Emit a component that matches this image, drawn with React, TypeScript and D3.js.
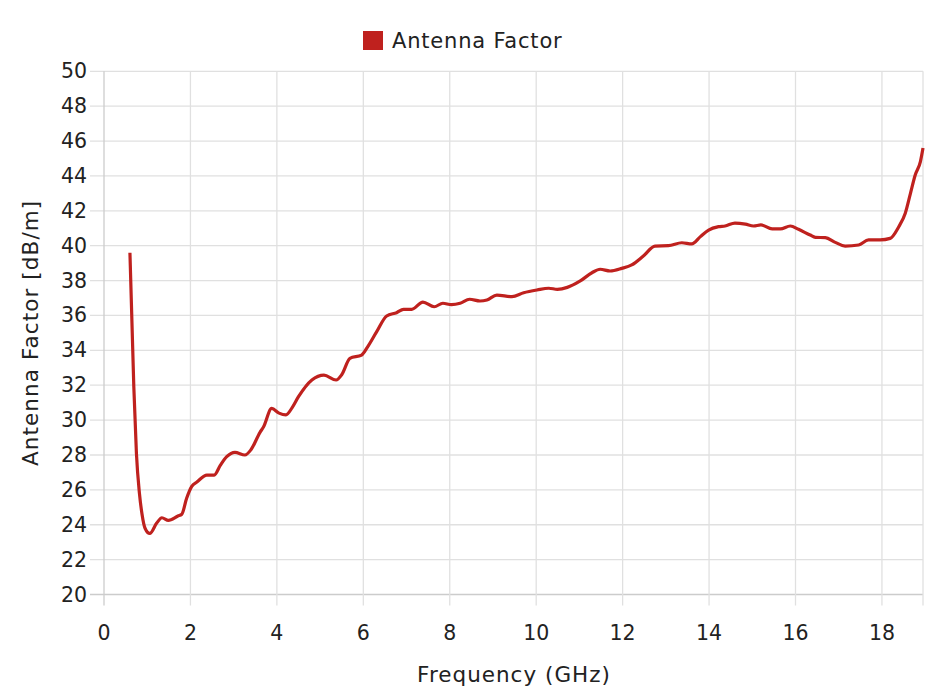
import React from 'react';
import * as d3 from 'd3';

// frequency (GHz) and antenna factor (dB/m)
const freqs = [
  0.6, 0.69, 0.75, 0.82, 0.88, 0.95, 1.06, 1.22, 1.34, 1.49, 1.71, 1.8, 1.91,
  2.03, 2.15, 2.38, 2.55, 2.69, 2.84, 3.03, 3.26, 3.4, 3.61, 3.69, 3.88, 4.05,
  4.21, 4.35, 4.5, 4.81, 5.09, 5.37, 5.5, 5.69, 5.96, 6.1, 6.31, 6.54, 6.77,
  6.93, 7.12, 7.38, 7.64, 7.84, 8.04, 8.24, 8.46, 8.7, 8.86, 9.09, 9.44, 9.71,
  10.02, 10.29, 10.49, 10.72, 11.02, 11.29, 11.48, 11.71, 11.98, 12.21, 12.48,
  12.75, 13.06, 13.37, 13.6, 13.8, 13.99, 14.22, 14.37, 14.6, 14.84, 15.03,
  15.2, 15.46, 15.65, 15.88, 16.07, 16.34, 16.46, 16.69, 16.92, 17.15, 17.46,
  17.69, 17.96, 18.19, 18.39, 18.54, 18.66, 18.77, 18.89, 18.95,
];
const factors = [
  39.6, 31.9, 28.1, 25.8, 24.6, 23.8, 23.5, 24.1, 24.4, 24.25, 24.5, 24.6, 25.5,
  26.2, 26.45, 26.85, 26.85, 27.4, 27.9, 28.15, 28.0, 28.3, 29.3, 29.6, 30.67, 30.4,
  30.3, 30.7, 31.34, 32.3, 32.58, 32.3, 32.6, 33.54, 33.73, 34.2, 35.07, 35.97, 36.16,
  36.35, 36.35, 36.77, 36.5, 36.7, 36.62, 36.7, 36.93, 36.83, 36.89, 37.17, 37.08, 37.3,
  37.46, 37.56, 37.5, 37.61, 37.98, 38.45, 38.65, 38.55, 38.7, 38.9, 39.41,
  39.98, 40.0, 40.17, 40.1, 40.52, 40.9, 41.09, 41.13, 41.3, 41.24, 41.13,
  41.19, 40.96, 40.96, 41.13, 40.94, 40.61, 40.48, 40.46, 40.19, 39.98, 40.04,
  40.33, 40.33, 40.42, 41.09, 41.86, 43.0, 44.05, 44.82, 45.6,
];
const xTicks = [0, 2, 4, 6, 8, 10, 12, 14, 16, 18];
const yTicks = [20, 22, 24, 26, 28, 30, 32, 34, 36, 38, 40, 42, 44, 46, 48, 50];

const seriesName = 'Antenna Factor';
const xTitle = 'Frequency (GHz)';
const yTitle = 'Antenna Factor [dB/m]';

const W = 930;
const H = 696;
const left = 104;
const right = 923;
const top = 71.3;
const bottom = 594.5;
const font = "'DejaVu Sans', sans-serif";
const red = '#bf211e';

export default function App() {
  const x = d3.scaleLinear().domain([0, 18.95]).range([left, right]);
  const y = d3.scaleLinear().domain([20, 50]).range([bottom, top]);

  const points = freqs.map((f, i) => [f, factors[i]] as [number, number]);
  const line = d3
    .line<[number, number]>()
    .x(d => x(d[0]))
    .y(d => y(d[1]))
    .curve(d3.curveMonotoneX);

  return (
    <svg
      width={W}
      height={H}
      style={{ position: 'absolute', left: 0, top: 0, background: '#fff' }}
      fontFamily={font}
    >
      {/* legend */}
      <rect x={363} y={31} width={20} height={19} fill={red} />
      <text x={392} y={48} fontSize={21} fill="#222" letterSpacing={0.8}>
        {seriesName}
      </text>

      {/* grid */}
      {yTicks.map(t => (
        <line key={'gy' + t} x1={left - 14} x2={right} y1={y(t)} y2={y(t)}
          stroke={t === 20 ? '#cccccc' : '#e0e0e0'} strokeWidth={1.3} />
      ))}
      {xTicks.map(t => (
        <line key={'gx' + t} x1={x(t)} x2={x(t)} y1={top} y2={bottom + 11}
          stroke={t === 0 ? '#cccccc' : '#e0e0e0'} strokeWidth={1.3} />
      ))}
      <line x1={right} x2={right} y1={top} y2={bottom + 11} stroke="#e0e0e0" strokeWidth={1.3} />

      {/* tick labels */}
      {yTicks.map(t => (
        <text key={'ly' + t} x={87} y={y(t) + 7} fontSize={20.5} textAnchor="end" fill="#222">
          {t}
        </text>
      ))}
      {xTicks.map(t => (
        <text key={'lx' + t} x={x(t)} y={640} fontSize={20.5} textAnchor="middle" fill="#222">
          {t}
        </text>
      ))}

      {/* axis titles */}
      <text x={514} y={682} fontSize={21.5} textAnchor="middle" fill="#222" letterSpacing={1}>
        {xTitle}
      </text>
      <text
        transform={`translate(38,${(top + bottom) / 2}) rotate(-90)`}
        fontSize={21.5}
        textAnchor="middle"
        fill="#222"
        letterSpacing={1.1}
      >
        {yTitle}
      </text>

      {/* series */}
      <path d={line(points) ?? ''} fill="none" stroke={red} strokeWidth={3.2} strokeLinejoin="round" />
    </svg>
  );
}
